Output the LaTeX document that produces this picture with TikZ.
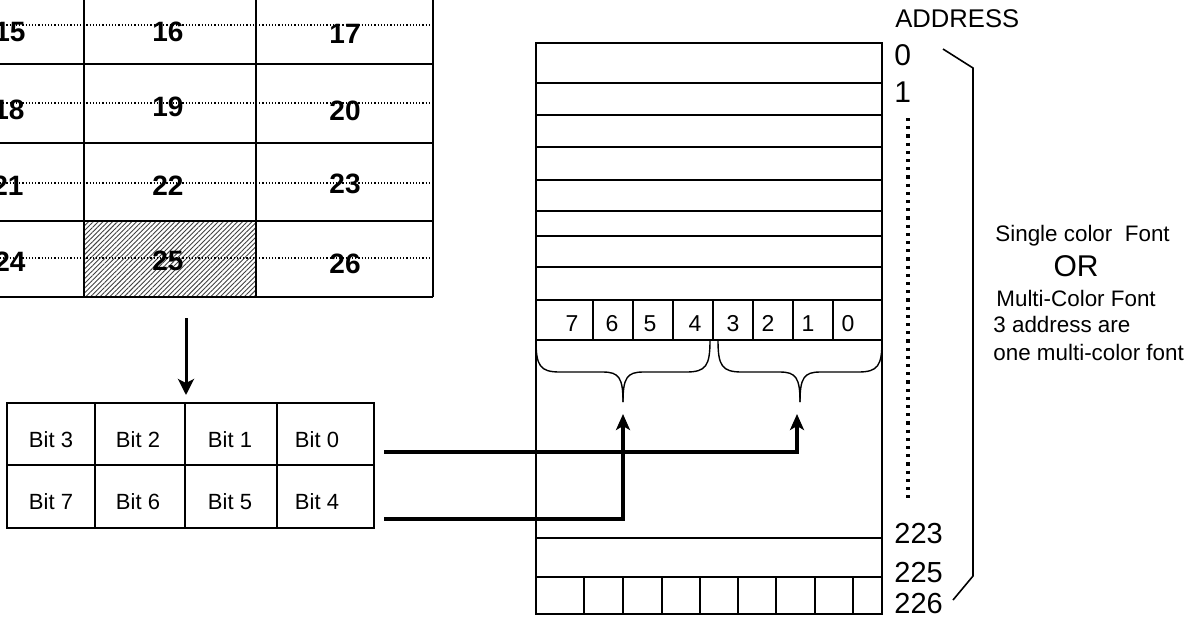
\documentclass[tikz,border=0pt]{standalone}
\usepackage{fontspec}
\setmainfont{Liberation Sans}
\usetikzlibrary{arrows.meta,patterns.meta}
\tikzset{
    table line/.style = {
        line width=1.2pt,
        },
    guide line/.style = {
        line width=0.6pt,
        dash pattern=on 0.6pt off 1pt,
        },
    cell num/.style = {
        inner sep=0,
        font=\fontsize{14}{16}\selectfont\bfseries,
        },
    bit label/.style = {
        inner sep=0,
        font=\fontsize{11}{13}\selectfont,
        },
    mem line/.style = {
        line width=1pt,
        },
    mem digit/.style = {
        inner sep=0,
        anchor=base,
        font=\fontsize{11.5}{13}\selectfont,
        },
    brace line/.style = {
        line width=0.7pt,
        },
    addr/.style = {
        inner sep=0,
        anchor=base west,
        font=\fontsize{14.5}{16}\selectfont,
        },
    note/.style = {
        inner sep=0,
        anchor=base west,
        font=\fontsize{11.2}{13}\selectfont,
        },
    link/.style = {
        line width=2pt,
        -{Stealth[length=8pt, width=7pt, inset=2pt]},
        },
    feed/.style = {
        line width=1.5pt,
        -{Stealth[length=8pt, width=8pt, inset=2pt]},
        },
    dots/.style = {
        line width=1.6pt,
        dash pattern=on 1.6pt off 2.5pt,
        },
}
\begin{document}
\begin{tikzpicture}[x=0.5pt, y=-0.5pt]
    \useasboundingbox (0,0) rectangle (1199,618);

    % font grid
    \fill[pattern={Lines[angle=45, distance=1.7pt, line width=0.45pt]}, pattern color=black!75] (84,221) rectangle (256,297);
    \foreach \y in {25,103,183,258}
        \draw[guide line] (0,\y) -- (433,\y);
    \draw[table line] (84,0) -- (84,297) (256,0) -- (256,297) (433,0) -- (433,297);
    \draw[table line] (0,64) -- (433,64) (0,143) -- (433,143) (0,221) -- (433,221) (0,297) -- (433,297);
    \draw[table line] (84,221) rectangle (256,297);

    \node[cell num] (n15) at (10,32) {15};
    \node[cell num] (n16) at (168,32) {16};
    \node[cell num] (n17) at (345,34) {17};
    \node[cell num] (n18) at (9,110) {18};
    \node[cell num] (n19) at (168,107) {19};
    \node[cell num] (n20) at (345,111) {20};
    \node[cell num] (n21) at (8,186) {21};
    \node[cell num] (n22) at (168,186) {22};
    \node[cell num] (n23) at (345,184) {23};
    \node[cell num] (n24) at (10,262) {24};
    \node[cell num] (n25) at (168,261) {25};
    \node[cell num] (n26) at (345,264) {26};

    \coordinate (drop) at (186,318);
    \coordinate (land) at (186,395);
    \draw[feed] (drop) -- (land);

    % bit table
    \draw[table line] (7,403) rectangle (374,528);
    \draw[table line] (7,465) -- (374,465);
    \draw[table line] (95,403) -- (95,528) (185,403) -- (185,528) (277,403) -- (277,528);
    \node[bit label] (b3) at (51,440) {Bit 3};
    \node[bit label] (b2) at (138,440) {Bit 2};
    \node[bit label] (b1) at (230,440) {Bit 1};
    \node[bit label] (b0) at (317,440) {Bit 0};
    \node[bit label] (b7) at (51,502) {Bit 7};
    \node[bit label] (b6) at (138,502) {Bit 6};
    \node[bit label] (b5) at (230,502) {Bit 5};
    \node[bit label] (b4) at (317,502) {Bit 4};

    % memory
    \draw[mem line] (536,43) rectangle (882,614);
    \foreach \y in {83,115,147,180,211,236,267,300,340,538,577}
        \draw[mem line] (536,\y) -- (882,\y);
    \foreach \x in {593,633,673,713,753,793,833}
        \draw[mem line] (\x,300) -- (\x,340);
    \foreach \x in {584,623,662,700,738,776,815,853}
        \draw[mem line] (\x,577) -- (\x,614);
    \node[mem digit] (m7) at (572,331) {7};
    \node[mem digit] (m6) at (612,331) {6};
    \node[mem digit] (m5) at (650,331) {5};
    \node[mem digit] (m4) at (695,331) {4};
    \node[mem digit] (m3) at (733,331) {3};
    \node[mem digit] (m2) at (768,331) {2};
    \node[mem digit] (m1) at (808,331) {1};
    \node[mem digit] (m0) at (848,331) {0};

    % braces
    \coordinate (hightip) at (623,402);
    \coordinate (lowtip) at (800,402);
    \draw[brace line] (536,340) .. controls (536,366) and (540,372) .. (560,372) -- (603,372) .. controls (619,372) and (623,378) .. (hightip);
    \draw[brace line] (710,340) .. controls (710,366) and (706,372) .. (686,372) -- (643,372) .. controls (627,372) and (623,378) .. (hightip);
    \draw[brace line] (718,340) .. controls (718,366) and (722,372) .. (742,372) -- (780,372) .. controls (796,372) and (800,378) .. (lowtip);
    \draw[brace line] (882,340) .. controls (882,366) and (878,372) .. (858,372) -- (820,372) .. controls (804,372) and (800,378) .. (lowtip);

    \coordinate (lowout) at (384,452);
    \coordinate (highout) at (384,519);
    \coordinate (lowin) at (797,414);
    \coordinate (highin) at (623,414);
    \draw[link] (lowout) -| (lowin);
    \draw[link] (highout) -| (highin);

    % addresses
    \node[addr, font=\fontsize{12.8}{15}\selectfont] (addrhead) at (895,27) {ADDRESS};
    \node[addr, font=\fontsize{15}{17}\selectfont] (a0) at (894,65) {0};
    \node[addr, font=\fontsize{15}{17}\selectfont] (a1) at (894,102) {1};
    \draw[dots] (908,118) -- (908,498);
    \node[addr] (a223) at (894,543) {223};
    \node[addr] (a225) at (894,582) {225};
    \node[addr] (a226) at (894,613) {226};
    \draw[line width=0.8pt] (943,49) -- (973,68) -- (973,576) -- (953,600);

    \node[note] (single) at (995,241) {Single color\ \ Font};
    \node[inner sep=0, anchor=base, font=\fontsize{15}{17}\selectfont] (or) at (1076,276) {OR};
    \node[note] (multi) at (996,306) {Multi-Color Font};
    \node[note] (three) at (993,332) {3 address are};
    \node[note] (one) at (993,360) {one multi-color font};
\end{tikzpicture}
\end{document}
